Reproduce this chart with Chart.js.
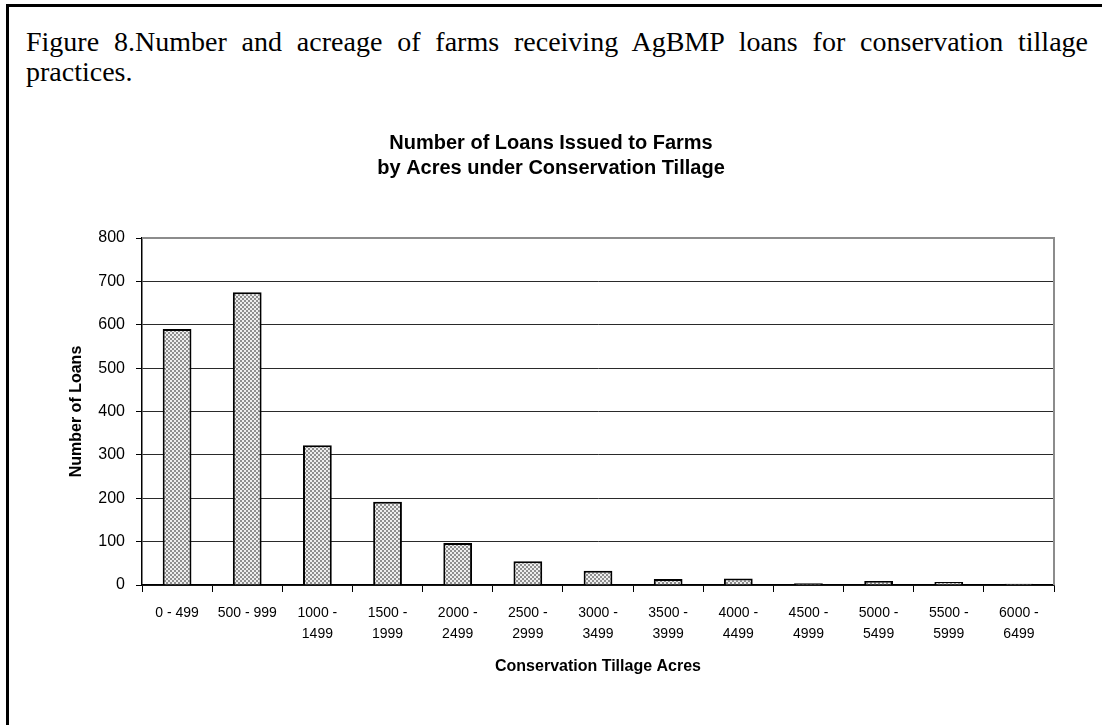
<!DOCTYPE html>
<html><head><meta charset="utf-8">
<script src="https://cdn.jsdelivr.net/npm/chart.js@4/dist/chart.umd.min.js"></script>
<style>
html,body{margin:0;padding:0;background:#fff;width:1102px;height:725px;overflow:hidden;}
#frame{position:absolute;left:6px;top:4px;width:1200px;height:800px;border-left:3px solid #000;border-top:3px solid #000;}
#caption{position:absolute;left:26px;top:27px;width:1062px;font-family:"Liberation Serif","Times New Roman",serif;font-size:28px;line-height:30px;text-align:justify;color:#000;}
#wrap{position:absolute;left:0;top:0;width:1102px;height:725px;}
</style></head><body>
<div id="frame"></div>
<div id="caption">Figure 8.Number and acreage of farms receiving AgBMP loans for conservation tillage practices.</div>
<div id="wrap"><canvas id="c"></canvas></div>
<script>
// ---- data ----
const categories = ['0 - 499','500 - 999','1000 - 1499','1500 - 1999','2000 - 2499','2500 - 2999','3000 - 3499','3500 - 3999','4000 - 4499','4500 - 4999','5000 - 5499','5500 - 5999','6000 - 6499'];
const tickLabels = [['0 - 499'],['500 - 999'],['1000 -','1499'],['1500 -','1999'],['2000 -','2499'],['2500 -','2999'],['3000 -','3499'],['3500 -','3999'],['4000 -','4499'],['4500 -','4999'],['5000 -','5499'],['5500 -','5999'],['6000 -','6499']];
const loans = [590, 675, 322, 192, 97, 55, 33, 14, 15, 4, 9, 7, 3];
const yMin = 0, yMax = 800, yStep = 100;
const chartTitle = ['Number of Loans Issued to Farms','by Acres under Conservation Tillage'];
const xTitle = 'Conservation Tillage Acres';
const yTitle = 'Number of Loans';

// ---- checker pattern ----
const pc = document.createElement('canvas');
pc.width = 4; pc.height = 4;
const px = pc.getContext('2d');
px.fillStyle = '#eeeeee'; px.fillRect(0,0,4,4);
px.fillStyle = '#8f8f8f'; px.fillRect(0,0,2,2); px.fillRect(2,2,2,2);
const checker = px.createPattern(pc, 'repeat');

const plotBorder = {
  id: 'plotBorder',
  afterDatasetsDraw(chart) {
    const {ctx, chartArea: a} = chart;
    ctx.save();
    ctx.strokeStyle = '#8c8c8c';
    ctx.lineWidth = 2;
    ctx.beginPath();
    ctx.moveTo(a.left, a.top);
    ctx.lineTo(a.right, a.top);
    ctx.lineTo(a.right, a.bottom);
    ctx.stroke();
    ctx.restore();
  }
};

Chart.defaults.font.family = '"Liberation Sans", Arial, sans-serif';
Chart.defaults.color = '#000';

new Chart(document.getElementById('c'), {
  type: 'bar',
  data: {
    labels: tickLabels,
    datasets: [{
      label: 'Loans',
      data: loans,
      backgroundColor: checker,
      borderColor: '#000',
      borderWidth: 2,
      borderSkipped: 'bottom',
      barPercentage: 0.41,
      categoryPercentage: 1.0
    }]
  },
  options: {
    responsive: true,
    maintainAspectRatio: false,
    animation: false,
    devicePixelRatio: 1,
    layout: { padding: { top: 0, left: 48, right: 48, bottom: 0 } },
    plugins: {
      legend: { display: false },
      tooltip: { enabled: false },
      title: {
        display: true,
        text: chartTitle,
        color: '#000',
        font: { size: 20, weight: 'bold', lineHeight: 1.25 },
        padding: { top: 131, bottom: 57 }
      }
    },
    scales: {
      x: {
        offset: true,
        afterFit(s) { s.height = 140; },
        grid: { display: true, drawOnChartArea: false, offset: true, tickLength: 7, color: '#000', lineWidth: 1 },
        border: { display: true, color: '#000', width: 1.5 },
        ticks: { font: { size: 14, lineHeight: 1.55 }, padding: 10, maxRotation: 0, autoSkip: false, color: '#000' },
        title: { display: true, text: xTitle, font: { size: 16, weight: 'bold', lineHeight: 1.2 }, padding: { top: 0, bottom: 49 }, color: '#000' }
      },
      y: {
        min: yMin, max: yMax,
        afterFit(s) { s.width = 94; },
        grid: { color: '#2a2a2a', lineWidth: 1, tickLength: 6, tickColor: '#000' },
        border: { display: true, color: '#000', width: 1.5 },
        ticks: { stepSize: yStep, font: { size: 16 }, padding: 11, color: '#000' },
        title: { display: true, text: yTitle, font: { size: 16, weight: 'bold', lineHeight: 1.2 }, padding: { top: 19, bottom: 0 }, color: '#000' }
      }
    }
  },
  plugins: [plotBorder]
});
</script>
</body></html>
